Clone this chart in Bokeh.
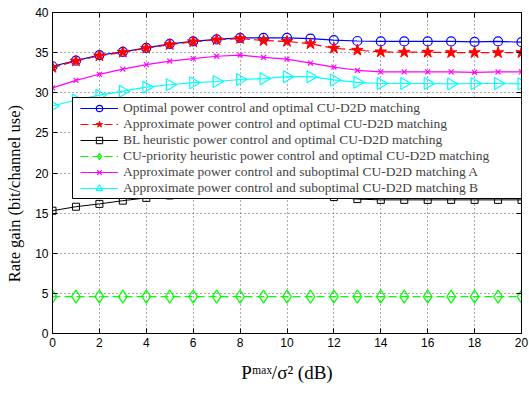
import math
from bokeh.plotting import figure
from bokeh.models import Legend, LegendItem, FixedTicker, BoxAnnotation, LinearAxis
from bokeh.embed import file_html
from bokeh.resources import INLINE

# Transmit power budget P^max / sigma^2 (dB)
snr_db = list(range(0, 21))

# Rate gain (bit/channel use) for each scheme
optimal_opt = [33.3, 34.0, 34.7, 35.1, 35.6, 36.1, 36.4, 36.65, 36.85, 36.85, 36.85,
               36.75, 36.55, 36.45, 36.4, 36.4, 36.4, 36.4, 36.35, 36.4, 36.3]
approx_opt = [33.15, 33.95, 34.6, 35.05, 35.55, 36.0, 36.35, 36.6, 36.75, 36.5, 36.4,
              36.1, 35.55, 35.3, 35.1, 35.05, 35.05, 35.0, 35.0, 35.0, 35.0]
bl_opt = [15.3, 15.8, 16.15, 16.55, 16.9, 17.2, 17.4, 17.55, 17.65, 17.55, 17.45,
          17.25, 17.0, 16.75, 16.65, 16.65, 16.65, 16.65, 16.65, 16.65, 16.65]
cu_priority_opt = [4.6] * 21
approx_sub_a = [30.6, 31.55, 32.3, 32.95, 33.5, 33.95, 34.25, 34.55, 34.7, 34.4, 34.2,
                33.7, 33.2, 32.8, 32.6, 32.6, 32.6, 32.6, 32.55, 32.6, 32.6]
approx_sub_b = [28.35, 29.1, 29.7, 30.2, 30.7, 31.0, 31.25, 31.4, 31.65, 31.75, 32.0,
                32.0, 31.6, 31.3, 31.15, 31.15, 31.15, 31.1, 31.15, 31.15, 31.1]

labels = [
    "Optimal power control and optimal CU-D2D matching",
    "Approximate power control and optimal CU-D2D matching",
    "BL heuristic power control and optimal CU-D2D matching",
    "CU-priority heuristic power control and optimal CU-D2D matching",
    "Approximate power control and suboptimal CU-D2D matching A",
    "Approximate power control and suboptimal CU-D2D matching B",
]

x_ticks = list(range(0, 21, 2))
y_ticks = list(range(0, 41, 5))
x_title = "Pᵐᵃˣ/σ² (dB)"
# trailing no-break spaces nudge the rotated title toward the lower half
y_title = "Rate gain (bit/channel use)" + "\u00a0" * 10

SERIF = "Liberation Serif"
SANS = "Liberation Sans"

p = figure(width=529, height=402, x_range=(0, 20), y_range=(0, 40),
           output_backend="svg", toolbar_location=None,
           min_border_left=52, min_border_right=8, min_border_top=12,
           min_border_bottom=69)

p.outline_line_color = "black"
p.outline_line_width = 1
p.background_fill_color = "white"
p.border_fill_color = "white"

x_bottom = p.below[0]
y_left = p.left[0]
# tick-only axes on the top and right edges (box style frame)
x_top = LinearAxis()
y_right = LinearAxis()
p.add_layout(x_top, "above")
p.add_layout(y_right, "right")

x_bottom.ticker = FixedTicker(ticks=x_ticks)
x_top.ticker = FixedTicker(ticks=x_ticks)
y_left.ticker = FixedTicker(ticks=y_ticks)
y_right.ticker = FixedTicker(ticks=y_ticks)

for ax in (x_bottom, y_left, x_top, y_right):
    ax.major_tick_in = 5
    ax.major_tick_out = 0
    ax.minor_tick_line_color = None
    ax.axis_line_color = "black"
    ax.major_tick_line_color = "black"

for ax in (x_bottom, y_left):
    ax.major_label_text_font = SANS
    ax.major_label_text_font_size = "12px"
    ax.major_label_text_color = "black"
    ax.major_label_standoff = 4
    ax.axis_label_text_font = SERIF
    ax.axis_label_text_font_style = "normal"
    ax.axis_label_text_color = "black"

for ax in (x_top, y_right):
    ax.major_label_text_font_size = "0px"
    ax.major_label_text_color = None
    ax.major_label_text_alpha = 0
    ax.major_label_standoff = 0

x_bottom.axis_label = x_title
x_bottom.axis_label_text_font_size = "19px"
x_bottom.axis_label_standoff = 12
y_left.axis_label = y_title
y_left.axis_label_text_font_size = "16.5px"
y_left.axis_label_standoff = 8

p.grid.grid_line_color = "#555555"
p.grid.grid_line_dash = "1 3"
p.grid.grid_line_width = 1

# series drawing
x = snr_db
r1l = p.line(x, optimal_opt, line_color="blue", line_width=1.2)
r1m = p.scatter(x, optimal_opt, marker="circle", size=9, line_color="blue",
                fill_color=None, line_width=1.2)
r2l = p.line(x, approx_opt, line_color="red", line_width=1.2, line_dash="8 4")
r2m = p.scatter(x, approx_opt, marker="star", size=12, line_color="red",
                fill_color="red", line_width=1)
r3l = p.line(x, bl_opt, line_color="black", line_width=1)
r3m = p.scatter(x, bl_opt, marker="square", size=7, line_color="black",
                fill_color=None, line_width=1)
r4l = p.line(x, cu_priority_opt, line_color="lime", line_width=1.2, line_dash="8 4")
r4m = p.scatter(x, cu_priority_opt, marker="diamond", size=13, line_color="lime",
                fill_color=None, line_width=1.2)
r5l = p.line(x, approx_sub_a, line_color="magenta", line_width=1.2)
r5m = p.scatter(x, approx_sub_a, marker="x", size=7, line_color="magenta", line_width=1.2)
r6l = p.line(x, approx_sub_b, line_color="cyan", line_width=1.2)
r6m = p.scatter(x, approx_sub_b, marker="triangle", size=12, angle=-90, angle_units="deg",
                line_color="cyan", fill_color=None, line_width=1.2)

# legend frame (drawn separately so the entries get a wider left margin)
p.add_layout(BoxAnnotation(left=20, right=469, bottom=135, top=236,
                           left_units="screen", right_units="screen",
                           bottom_units="screen", top_units="screen",
                           fill_color="white", fill_alpha=1,
                           line_color="black", line_width=1, line_alpha=1))

pairs = [(r1l, r1m), (r2l, r2m), (r3l, r3m), (r4l, r4m), (r5l, r5m), (r6l, r6m)]
items = [LegendItem(label=lab, renderers=list(rs)) for lab, rs in zip(labels, pairs)]
legend = Legend(items=items, location=(28, 137), margin=0, padding=0,
                spacing=0, glyph_width=38, glyph_height=16, label_height=16,
                label_width=380, label_standoff=5,
                label_text_font=SERIF, label_text_font_size="13.5px",
                border_line_color=None,
                background_fill_color="white", background_fill_alpha=0)
p.add_layout(legend, "center")

open("out.html", "w").write(file_html(p, INLINE))
